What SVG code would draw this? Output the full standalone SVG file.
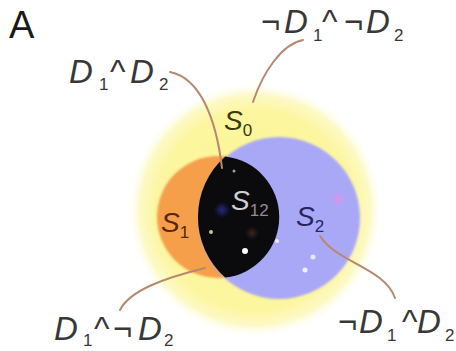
<svg xmlns="http://www.w3.org/2000/svg" width="456" height="351" viewBox="0 0 456 351">
  <defs>
    <radialGradient id="yg" cx="0.5" cy="0.5" r="0.5">
      <stop offset="0" stop-color="#fbf590"/>
      <stop offset="0.78" stop-color="#fcf6a0"/>
      <stop offset="0.9" stop-color="#fdf9c6"/>
      <stop offset="1" stop-color="#ffffff" stop-opacity="0"/>
    </radialGradient>
    <filter id="soft" x="-10%" y="-10%" width="120%" height="120%">
      <feGaussianBlur stdDeviation="1.2"/>
    </filter>
    <filter id="glow" x="-100%" y="-100%" width="300%" height="300%">
      <feGaussianBlur stdDeviation="2"/>
    </filter>
  </defs>
  <style>
    .lbl { font-family: "Liberation Sans", Arial, sans-serif; font-size: 33px; fill: #383838; }
    .it { font-style: italic; }
    .sub { font-size: 17px; font-style: normal; }
    .set { font-family: "Liberation Sans", Arial, sans-serif; font-size: 28px; font-style: italic; }
    .conn { fill: none; stroke: #b8876f; stroke-width: 2; stroke-linecap: round; }
  </style>
  <rect width="456" height="351" fill="#ffffff"/>
  <text x="9" y="38" font-family="Liberation Sans, Arial, sans-serif" font-size="38" fill="#1a1a1a">A</text>

  <g id="S0">
    <circle cx="255" cy="210" r="128" fill="url(#yg)"/>
  </g>
  <g id="S1">
    <circle cx="218" cy="217" r="61" fill="#f59f4c" filter="url(#soft)"/>
  </g>
  <g id="S2">
    <circle cx="279" cy="218" r="81" fill="#a9a8f6" filter="url(#soft)"/>
    <circle cx="338" cy="199" r="5" fill="#e58fe8" opacity="0.7" filter="url(#glow)"/>
    <circle cx="313" cy="257" r="2.5" fill="#e6e8ff"/>
    <circle cx="305" cy="270" r="2.5" fill="#eef0ff"/>
  </g>
  <g id="S12">
    <path d="M225.2,156.4 A81,81 0 0 0 225.2,277.6 A61,61 0 0 0 225.2,156.4 Z" fill="#0b0b0e"/>
    <circle cx="222" cy="210" r="5" fill="#2a2a90" opacity="0.8" filter="url(#glow)"/>
    <circle cx="252" cy="233" r="4" fill="#4a2a28" opacity="0.8" filter="url(#glow)"/>
    <circle cx="245" cy="251" r="3" fill="#ffffff"/>
    <circle cx="211" cy="232" r="2" fill="#b8c8a8"/>
    <circle cx="277" cy="241" r="2" fill="#e8e8ff"/>
    <circle cx="234" cy="171" r="1.5" fill="#9aa890"/>
  </g>

  <g id="connectors">
    <path class="conn" d="M170,72 C200,78 216,118 222,168"/>
    <path class="conn" d="M303,40 C282,44 263,72 253,102"/>
    <path class="conn" d="M120,310 C130,290 165,278 205,268"/>
    <path class="conn" d="M320,236 C336,262 385,268 395,298"/>
  </g>

  <g id="set-labels">
    <text class="set" x="224" y="130" fill="#3a3a12">S<tspan class="sub" dy="6">0</tspan></text>
    <text class="set" x="161" y="232" fill="#5a2608">S<tspan class="sub" dy="6">1</tspan></text>
    <text class="set" x="231" y="210" fill="#d0d0d0">S<tspan class="sub" dy="6" fill="#9a8a8a">12</tspan></text>
    <text class="set" x="296" y="226" fill="#26265e">S<tspan class="sub" dy="6">2</tspan></text>
  </g>

  <g id="label-D1andD2">
    <text class="lbl" y="83"><tspan class="it" x="69">D</tspan><tspan class="sub" x="99" y="90">1</tspan><tspan x="110" y="83">^</tspan><tspan class="it" x="130">D</tspan><tspan class="sub" x="159" y="90">2</tspan></text>
  </g>
  <g id="label-notD1andnotD2">
    <text class="lbl" y="33"><tspan x="261">¬</tspan><tspan class="it" x="284">D</tspan><tspan class="sub" x="313" y="41">1</tspan><tspan x="322" y="33">^</tspan><tspan x="344">¬</tspan><tspan class="it" x="366">D</tspan><tspan class="sub" x="394" y="41">2</tspan></text>
  </g>
  <g id="label-D1andnotD2">
    <text class="lbl" y="340"><tspan class="it" x="54">D</tspan><tspan class="sub" x="83" y="346">1</tspan><tspan x="94" y="340">^</tspan><tspan x="113">¬</tspan><tspan class="it" x="138">D</tspan><tspan class="sub" x="164" y="346">2</tspan></text>
  </g>
  <g id="label-notD1andD2">
    <text class="lbl" y="333"><tspan x="338">¬</tspan><tspan class="it" x="359">D</tspan><tspan class="sub" x="387" y="341">1</tspan><tspan x="402" y="333">^</tspan><tspan class="it" x="417">D</tspan><tspan class="sub" x="445" y="341">2</tspan></text>
  </g>
</svg>
